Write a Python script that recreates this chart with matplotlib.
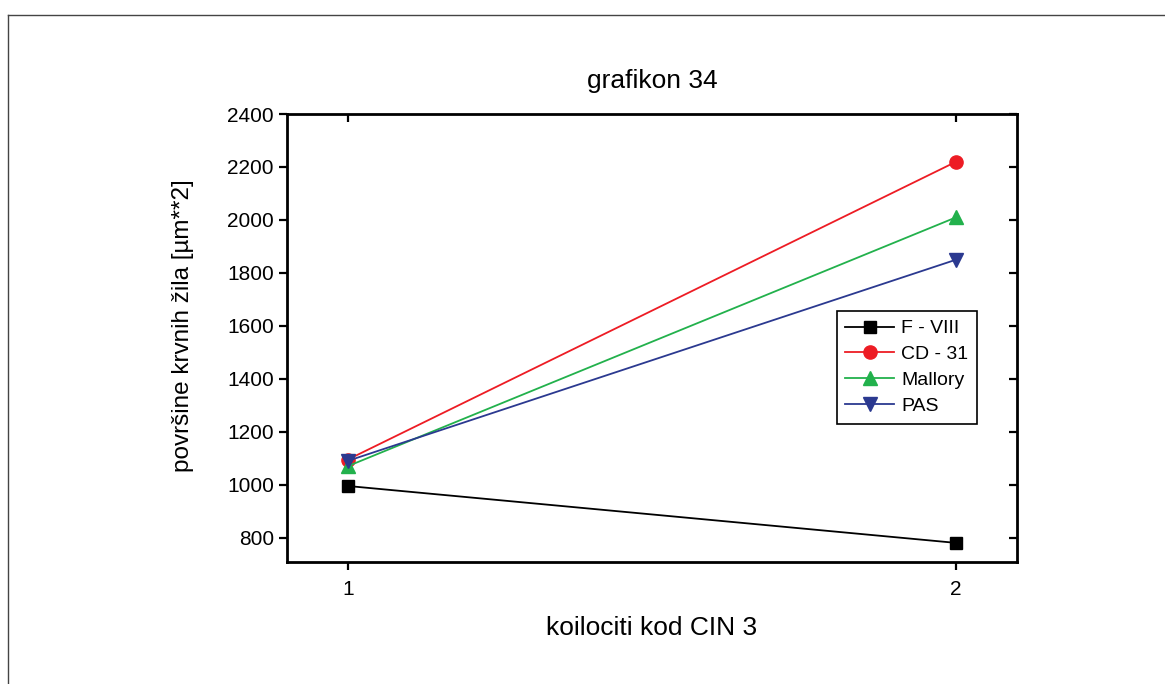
import matplotlib
matplotlib.use("Agg")
import matplotlib.pyplot as plt
from matplotlib.lines import Line2D

plt.rcParams['font.family'] = ['Liberation Sans', 'DejaVu Sans']

x = [1, 2]
f_viii = [995, 780]
cd_31 = [1095, 2220]
mallory = [1070, 2010]
pas = [1090, 1850]

series_names = ['F - VIII', 'CD - 31', 'Mallory', 'PAS']
series_colors = ['#000000', '#ED1C24', '#22B14C', '#2B3990']
series_markers = ['s', 'o', '^', 'v']
series_sizes = [8, 9.5, 9.5, 9.5]
yticks = [800, 1000, 1200, 1400, 1600, 1800, 2000, 2200, 2400]

fig = plt.figure(figsize=(11.65, 6.84), dpi=100)
ax = fig.add_axes([0.2464, 0.1784, 0.6266, 0.6549])

for vals, name, col, mk, ms in zip([f_viii, cd_31, mallory, pas], series_names,
                                   series_colors, series_markers, series_sizes):
    ax.plot(x, vals, color=col, marker=mk, markersize=ms, lw=1.3, label=name)

ax.set_xlim(0.9, 2.1)
ax.set_ylim(708, 2400)
ax.set_xticks([1, 2])
ax.set_yticks(yticks)
ax.tick_params(axis='both', labelsize=15, width=1.6, length=6, direction='out')
ax.tick_params(axis='x', pad=7)
for s in ax.spines.values():
    s.set_linewidth(2)

# inward ticks on the top and right spines, no labels
top = ax.secondary_xaxis('top')
top.set_xticks([1, 2])
top.tick_params(direction='in', length=6, width=1.6, labeltop=False)
top.spines['top'].set_visible(False)
right = ax.secondary_yaxis('right')
right.set_yticks(yticks)
right.tick_params(direction='in', length=6, width=1.6, labelright=False)
right.spines['right'].set_visible(False)

ax.set_title('grafikon 34', fontsize=19, pad=19)
ax.set_xlabel('koilociti kod CIN 3', fontsize=19, labelpad=12)
ax.set_ylabel('površine krvnih žila [µm**2]', fontsize=17.5)
ax.yaxis.set_label_coords(-0.127, 0.527)

leg = ax.legend(loc='upper left', bbox_to_anchor=(0.753, 0.56), fontsize=14,
                frameon=True, fancybox=False, edgecolor='black', framealpha=1,
                handlelength=2.5, handletextpad=0.35, labelspacing=0.42,
                borderpad=0.45, borderaxespad=0)
leg.get_frame().set_linewidth(1.2)

# page frame
fig.add_artist(Line2D([7.5 / 1165, 7.5 / 1165], [0, 1 - 15 / 684],
                      color='#444444', lw=1, transform=fig.transFigure))
fig.add_artist(Line2D([7.5 / 1165, 1], [1 - 15 / 684, 1 - 15 / 684],
                      color='#444444', lw=1, transform=fig.transFigure))

fig.savefig('out.png', dpi=100)
